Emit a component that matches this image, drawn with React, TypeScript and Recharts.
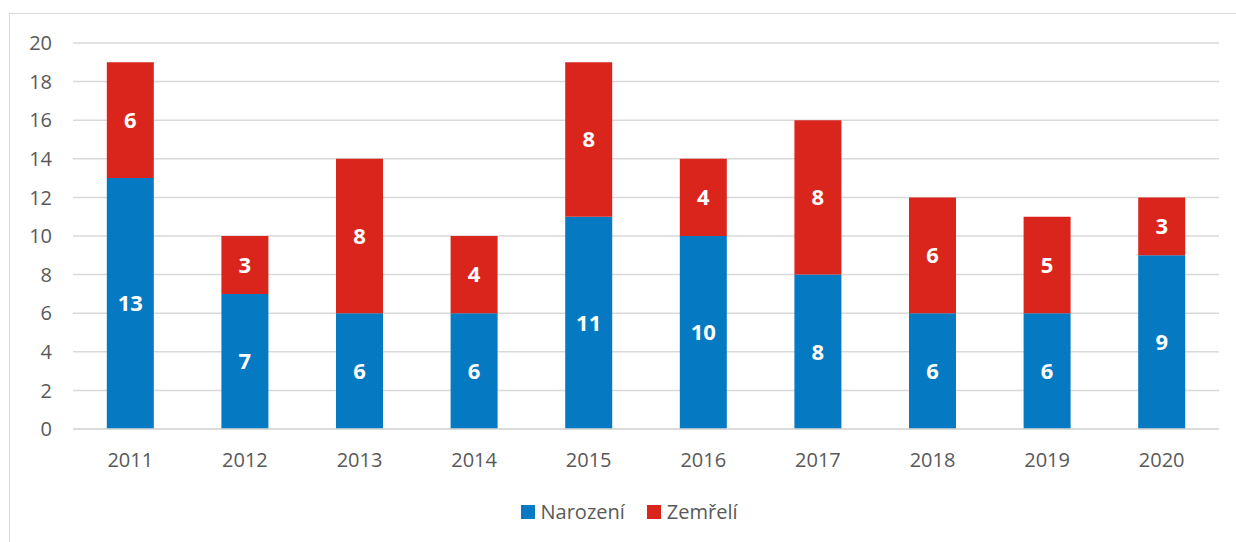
import { BarChart, Bar, XAxis, YAxis, CartesianGrid, Legend, LabelList } from "recharts";

const years = ["2011", "2012", "2013", "2014", "2015", "2016", "2017", "2018", "2019", "2020"];
const narozeni = [13, 7, 6, 6, 11, 10, 8, 6, 6, 9];
const zemreli = [6, 3, 8, 4, 8, 4, 8, 6, 5, 3];
const yTicks = [0, 2, 4, 6, 8, 10, 12, 14, 16, 18, 20];

const data = years.map((year, i) => ({
  year,
  narozeni: narozeni[i],
  zemreli: zemreli[i],
}));

const font = "'Open Sans', sans-serif";

function LegendBox({ payload }: any) {
  return (
    <div style={{ display: "flex", justifyContent: "center", gap: 22, paddingLeft: 18, fontFamily: font, fontSize: 20, color: "#595959" }}>
      {(payload || []).map((p: any) => (
        <div key={p.value} style={{ display: "flex", alignItems: "center", gap: 6 }}>
          <span style={{ width: 14, height: 14, background: p.color, display: "inline-block" }} />
          <span>{p.value}</span>
        </div>
      ))}
    </div>
  );
}

export default function App() {
  return (
    <div style={{ position: "fixed", left: 0, top: 0, width: 1236, height: 542, background: "#fff" }}>
      <div
        style={{
          position: "absolute",
          left: 9,
          top: 13,
          width: 1240,
          height: 540,
          border: "1px solid #d9d9d9",
        }}
      />
      <BarChart
        width={1236}
        height={542}
        data={data}
        margin={{ top: 43, right: 17, left: 21, bottom: 38 }}
        barCategoryGap="29.5%"
        style={{ position: "absolute", left: 0, top: 0 }}
      >
        <CartesianGrid vertical={false} stroke="#d9d9d9" strokeWidth={1.5} />
        <XAxis
          dataKey="year"
          axisLine={{ stroke: "#d9d9d9", strokeWidth: 1.5 }}
          tickLine={false}
          tick={{ fill: "#595959", fontSize: 20, fontFamily: font }}
          tickMargin={18}
          height={48}
        />
        <YAxis
          domain={[0, 20]}
          ticks={yTicks}
          interval={0}
          axisLine={false}
          tickLine={false}
          tick={{ fill: "#595959", fontSize: 20, fontFamily: font }}
          tickMargin={15}
          width={52}
        />
        <Legend verticalAlign="bottom" wrapperStyle={{ bottom: 17 }} content={<LegendBox />} />
        <Bar dataKey="narozeni" name="Narození" stackId="a" fill="#0579c1" isAnimationActive={false}>
          <LabelList dataKey="narozeni" position="center" fill="#fff" fontSize={22} fontWeight="bold" fontFamily={font} />
        </Bar>
        <Bar dataKey="zemreli" name="Zemřelí" stackId="a" fill="#da251d" isAnimationActive={false}>
          <LabelList dataKey="zemreli" position="center" fill="#fff" fontSize={22} fontWeight="bold" fontFamily={font} />
        </Bar>
      </BarChart>
    </div>
  );
}
